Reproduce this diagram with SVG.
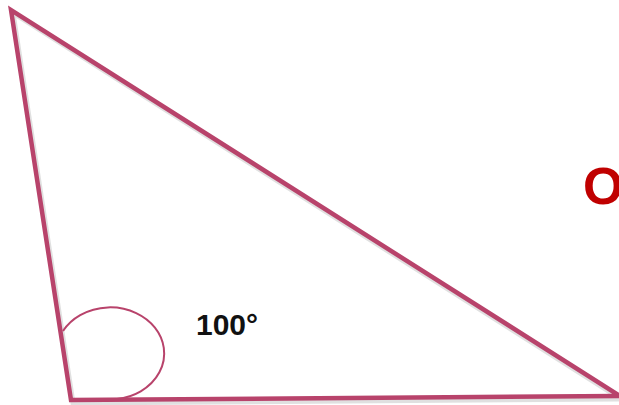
<svg xmlns="http://www.w3.org/2000/svg" width="619" height="405" viewBox="0 0 619 405">
<defs>
<style>
.edge{fill:none;stroke:#b8436b;stroke-width:4.5;stroke-linejoin:miter;stroke-linecap:butt}
.shadow{fill:none;stroke:#000;stroke-opacity:0.12;stroke-width:5}
.arc{fill:none;stroke:#b8436b;stroke-width:2}
</style>
</defs>
<g id="connectors">
<polygon class="shadow" points="13,13 73,403 621,399"/>
<polygon class="edge" points="11,10 71,400 620,396"/>
</g>
<g id="angle">
<path class="arc" d="M63,331 A54,46 0 1 1 117,399"/>
<text x="196" y="335" font-family="Liberation Sans, Arial, sans-serif" font-weight="bold" font-size="30" fill="#111">100°</text>
</g>
<g id="label">
<text x="583" y="204" font-family="Liberation Sans, Arial, sans-serif" font-weight="bold" font-size="52" fill="#c00000">O</text>
</g>
</svg>
